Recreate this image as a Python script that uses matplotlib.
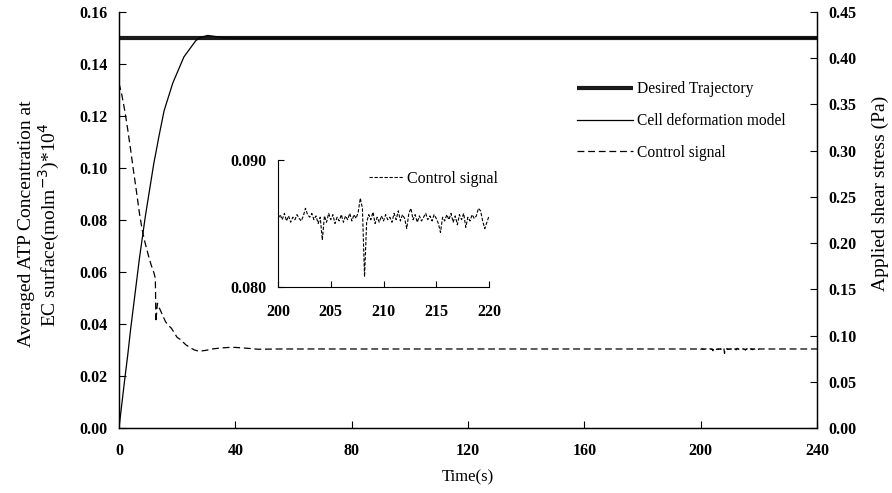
import numpy as np
import matplotlib
matplotlib.use("Agg")
import matplotlib.pyplot as plt

plt.rcParams['font.family'] = ['Liberation Serif', 'DejaVu Serif']

# ---------------- data ----------------
desired_t = [0, 240]
desired_atp = [0.15, 0.15]

model_t = [0, 1, 2, 3, 4, 5, 6, 7, 8, 9, 10, 11, 12, 12.7, 13.7, 15.5, 18.5,
           22.3, 26.4, 28, 30.5, 33, 36, 40, 240]
model_atp = [0.0, 0.0095, 0.019, 0.028, 0.038, 0.047, 0.056, 0.065, 0.073,
             0.081, 0.088, 0.095, 0.102, 0.106, 0.112, 0.122, 0.1327, 0.1427,
             0.149, 0.1502, 0.151, 0.1506, 0.1501, 0.150, 0.150]

control_t = [0, 1, 2, 3, 4, 5, 6, 7, 8, 9, 10, 11, 12, 12.5, 12.7, 13.2, 14,
             15, 16, 17, 18, 19, 20, 21, 22, 23, 24, 25, 26, 27, 28, 30, 32,
             35, 38, 40, 44, 48, 55, 200]
control_pa = [0.373, 0.360, 0.343, 0.323, 0.301, 0.278, 0.256, 0.233, 0.214,
              0.200, 0.188, 0.177, 0.168, 0.162, 0.115, 0.135, 0.129, 0.122,
              0.115, 0.111, 0.108, 0.103, 0.098, 0.096, 0.093, 0.090, 0.088,
              0.086, 0.0844, 0.0835, 0.0832, 0.0841, 0.0855, 0.0866, 0.0872,
              0.0872, 0.0863, 0.0852, 0.0855, 0.0855]

tail_t = [220, 240]
tail_pa = [0.0855, 0.0855]

inset_pa = [
    0.0854, 0.0857, 0.0853, 0.0858, 0.0852, 0.0856, 0.0851, 0.0855, 0.0853, 0.0857,
    0.0854, 0.0852, 0.0856, 0.0862, 0.0857, 0.0855, 0.0858, 0.0853, 0.0856, 0.0850,
    0.0855, 0.0837, 0.0856, 0.0851, 0.0858, 0.0853, 0.0857, 0.0850, 0.0855, 0.0852,
    0.0857, 0.0851, 0.0856, 0.0853, 0.0858, 0.0852, 0.0857, 0.0854, 0.0859, 0.0870,
    0.0862, 0.0808, 0.0851, 0.0857, 0.0853, 0.0859, 0.0850, 0.0855, 0.0851, 0.0856,
    0.0852, 0.0857, 0.0853, 0.0855, 0.0851, 0.0858, 0.0853, 0.0860, 0.0852, 0.0857,
    0.0854, 0.0846, 0.0858, 0.0862, 0.0853, 0.0857, 0.0851, 0.0856, 0.0852, 0.0855,
    0.0858, 0.0853, 0.0856, 0.0852, 0.0857, 0.0854, 0.0850, 0.0843, 0.0855, 0.0852,
    0.0857, 0.0853, 0.0858, 0.0851, 0.0856, 0.0849, 0.0857, 0.0853, 0.0858, 0.0847,
    0.0855, 0.0852, 0.0857, 0.0854, 0.0856, 0.0862, 0.0860, 0.0852, 0.0846, 0.0851,
    0.0856]
inset_t = np.linspace(200, 220, len(inset_pa))

x_ticks = [0, 40, 80, 120, 160, 200, 240]
left_ticks = [0.00, 0.02, 0.04, 0.06, 0.08, 0.10, 0.12, 0.14, 0.16]
right_ticks = [0.00, 0.05, 0.10, 0.15, 0.20, 0.25, 0.30, 0.35, 0.40, 0.45]
inset_xticks = [200, 205, 210, 215, 220]
inset_yticks = [0.080, 0.090]

# ---------------- figure ----------------
fig = plt.figure(figsize=(8.92, 4.93), dpi=100)
ax = fig.add_axes([0.1334, 0.1318, 0.7825, 0.8438])
ax2 = ax.twinx()

tick_font = dict(family='Liberation Serif', weight='bold', size=11.5)

ax.plot(desired_t, desired_atp, color='#1a1a1a', lw=3.0, solid_capstyle='butt',
        label='Desired Trajectory')
ax.plot(model_t, model_atp, color='black', lw=0.9, label='Cell deformation model')
ctrl_t = list(control_t) + list(inset_t) + tail_t
ctrl_v = list(control_pa) + list(inset_pa) + tail_pa
ax2.plot(ctrl_t, ctrl_v, color='black', lw=0.9, dashes=(5.5, 3))
ax.plot([], [], color='black', lw=0.9, dashes=(5.5, 3), label='Control signal')

ax.set_xlim(0, 240)
ax.set_ylim(0, 0.16)
ax2.set_ylim(0, 0.45)
ax.set_xticks(x_ticks)
ax.set_xticklabels([str(v) for v in x_ticks], fontdict=tick_font)
ax.set_yticks(left_ticks)
ax.set_yticklabels([f"{v:.2f}" for v in left_ticks], fontdict=tick_font)
ax2.set_yticks(right_ticks)
ax2.set_yticklabels([f"{v:.2f}" for v in right_ticks], fontdict=tick_font)

for a in (ax, ax2):
    a.spines['top'].set_visible(False)
    for s in a.spines.values():
        s.set_linewidth(0.9)
ax.tick_params(axis='y', direction='in', length=5, width=0.8, pad=8)
ax.tick_params(axis='x', direction='in', length=5, width=0.8, pad=11)
ax2.tick_params(axis='y', direction='in', length=5, width=0.8, pad=8)

ax.set_xlabel('Time(s)', fontsize=12, labelpad=7)
ax.set_ylabel('Averaged ATP Concentration at\nEC surface(molm$^{-3}$)*10$^{4}$',
              fontsize=14, linespacing=1.1)
ax.yaxis.set_label_coords(-0.082, 0.49)
ax2.set_ylabel('Applied shear stress (Pa)', fontsize=14)
ax2.yaxis.set_label_coords(1.078, 0.565)

leg = ax.legend(loc='upper left', bbox_to_anchor=(0.647, 0.848), frameon=False,
                fontsize=11.2, handlelength=3.6, handletextpad=0.25,
                labelspacing=1.0, borderaxespad=0)

# ---------------- inset ----------------
axi = fig.add_axes([0.3117, 0.4178, 0.2365, 0.2576])
axi.plot(inset_t, inset_pa, color='black', lw=0.8, dashes=(3, 1.5),
         label='Control signal')
axi.set_xlim(200, 220)
axi.set_ylim(0.080, 0.090)
axi.set_xticks(inset_xticks)
axi.set_xticklabels([str(v) for v in inset_xticks], fontdict=tick_font)
axi.set_yticks(inset_yticks)
axi.set_yticklabels([f"{v:.3f}" for v in inset_yticks], fontdict=tick_font)
axi.spines['top'].set_visible(False)
axi.spines['right'].set_visible(False)
for s in axi.spines.values():
    s.set_linewidth(0.8)
axi.tick_params(direction='in', length=4, width=0.8)
axi.tick_params(axis='y', pad=8)
axi.tick_params(axis='x', pad=12)
axi.patch.set_alpha(0)
axi.legend(loc='center left', bbox_to_anchor=(0.40, 0.85), frameon=False,
           fontsize=11.5, handlelength=2.2, handletextpad=0.2, borderaxespad=0)

fig.savefig('out.png', dpi=100)
